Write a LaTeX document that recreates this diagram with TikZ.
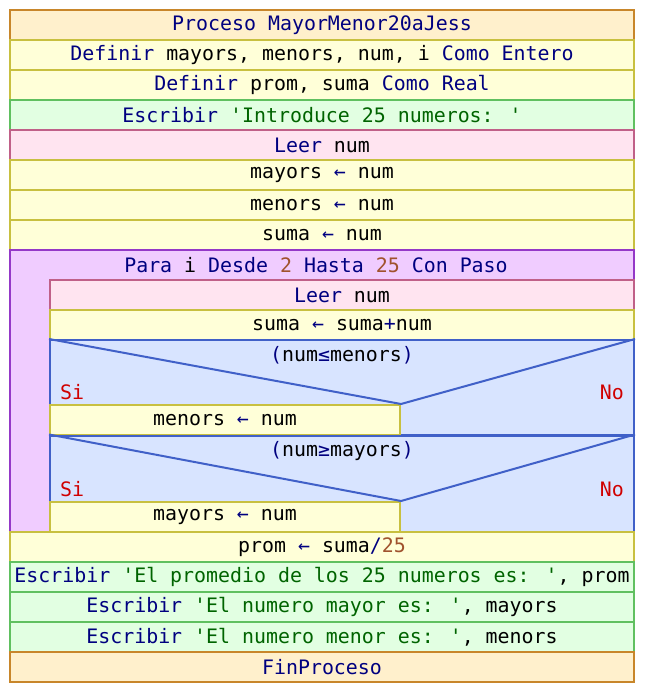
\documentclass[tikz,border=0pt]{standalone}
\usepackage{fontspec}
\usepackage{tikz}
\usetikzlibrary{positioning}
\newfontfamily\mono{DejaVu Sans Mono}

\definecolor{procfill}{HTML}{FFF0CC}
\definecolor{procline}{HTML}{C8862A}
\definecolor{deffill}{HTML}{FFFFD8}
\definecolor{defline}{HTML}{C8C040}
\definecolor{outfill}{HTML}{E2FFE2}
\definecolor{outline}{HTML}{60C060}
\definecolor{infill}{HTML}{FFE4F0}
\definecolor{inline}{HTML}{C06088}
\definecolor{loopfill}{HTML}{F0CCFF}
\definecolor{loopline}{HTML}{9438C8}
\definecolor{condfill}{HTML}{D8E4FF}
\definecolor{condline}{HTML}{4060C8}
\definecolor{kwcol}{HTML}{000080}
\definecolor{strcol}{HTML}{006400}
\definecolor{numcol}{HTML}{A0522D}
\definecolor{sicol}{HTML}{D00000}

\newcommand{\kw}[1]{{\color{kwcol}#1}}
\newcommand{\txt}[1]{{\color{strcol}#1}}
\newcommand{\nm}[1]{{\color{numcol}#1}}
\newcommand{\asg}{\kw{←}}

\begin{document}
\begin{tikzpicture}[
    x=1pt, y=-1pt,
    row/.style={draw, line width=2pt, inner sep=0pt, minimum height=30pt,
        font=\mono\fontsize{19.9}{22}\selectfont},
    wide/.style={row, minimum width=624pt},
    narrow/.style={row, minimum width=584pt},
    procbox/.style={wide, fill=procfill, draw=procline},
    defbox/.style={fill=deffill, draw=defline},
    outbox/.style={fill=outfill, draw=outline},
    inbox/.style={fill=infill, draw=inline},
    condbox/.style={row, fill=condfill, draw=condline},
    label/.style={inner sep=0pt, font=\mono\fontsize{19.9}{22}\selectfont}
]
    \useasboundingbox (0,0) rectangle (644,692);

    % Header
    \node[procbox] (proc) at (322,25) {\kw{Proceso MayorMenor20aJess}};
    \node[wide, defbox] (def1) at (322,55) {\kw{Definir} mayors, menors, num, i \kw{Como Entero}};
    \node[wide, defbox] (def2) at (322,85) {\kw{Definir} prom, suma \kw{Como Real}};
    \node[wide, outbox] (out1) at (322,115) {\kw{Escribir} \txt{'Introduce 25 numeros: '}};
    \node[wide, inbox] (read1) at (322,145) {\kw{Leer} num};
    \node[wide, defbox] (set1) at (322,175) {mayors \asg{} num};
    \node[wide, defbox] (set2) at (322,205) {menors \asg{} num};
    \node[wide, defbox] (set3) at (322,235) {suma \asg{} num};

    % Loop
    \filldraw[fill=loopfill, draw=loopline, line width=2pt]
        (10,250) -- (634,250) -- (634,280) -- (50,280) -- (50,532) -- (10,532) -- cycle;
    \node[label] (loop) at (316,265) {\kw{Para} i \kw{Desde} \nm{2} \kw{Hasta} \nm{25} \kw{Con Paso}};
    \node[narrow, inbox] (read2) at (342,295) {\kw{Leer} num};
    \node[narrow, defbox] (sum) at (342,325) {suma \asg{} suma\kw{+}num};

    % First condition
    \node[condbox, minimum width=584pt, minimum height=95pt] (cond1) at (342,387.5) {};
    \node[row, defbox, minimum width=350pt] (yes1) at (225,420) {menors \asg{} num};
    \draw[condline, line width=2pt] (cond1.north west) -- (yes1.north east) -- (cond1.north east);
    \node[label] (test1) at (342,355) {\kw{(}num\kw{≤}menors\kw{)}};
    \node[label, anchor=west, text=sicol] (si1) at (60,392) {Si};
    \node[label, anchor=east, text=sicol] (no1) at (624,392) {No};

    % Second condition
    \node[condbox, minimum width=584pt, minimum height=97pt] (cond2) at (342,484) {};
    \node[row, defbox, minimum width=350pt] (yes2) at (225,517) {mayors \asg{} num};
    \draw[condline, line width=2pt] (cond2.north west) -- (yes2.north east) -- (cond2.north east);
    \node[label] (test2) at (342,451) {\kw{(}num\kw{≥}mayors\kw{)}};
    \node[label, anchor=west, text=sicol] (si2) at (60,489) {Si};
    \node[label, anchor=east, text=sicol] (no2) at (624,489) {No};

    % Output
    \node[wide, defbox] (avg) at (322,547) {prom \asg{} suma\kw{/}\nm{25}};
    \node[wide, outbox] (out2) at (322,577) {\kw{Escribir} \txt{'El promedio de los 25 numeros es: '}, prom};
    \node[wide, outbox] (out3) at (322,607) {\kw{Escribir} \txt{'El numero mayor es: '}, mayors};
    \node[wide, outbox] (out4) at (322,637) {\kw{Escribir} \txt{'El numero menor es: '}, menors};
    \node[procbox] (fin) at (322,667) {\kw{FinProceso}};

\end{tikzpicture}
\end{document}
